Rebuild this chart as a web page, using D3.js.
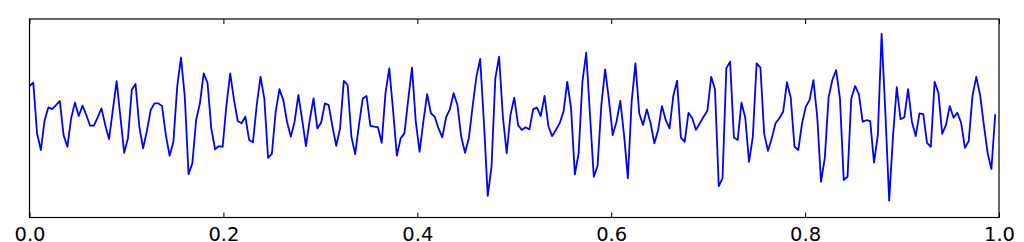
<!DOCTYPE html>
<html>
<head>
<meta charset="utf-8">
<script src="https://cdn.jsdelivr.net/npm/d3@7"></script>
<style>
  html, body { margin: 0; padding: 0; background: #fff; }
  svg { display: block; }
</style>
</head>
<body>
<div id="chart"></div>
<script>
// Signal samples (256 samples over [0, 1))
const signal = [
  1.30, 1.43, -0.61, -1.28, -0.07, 0.44, 0.37, 0.53, 0.70, -0.68,
  -1.15, 0.00, 0.63, 0.09, 0.51, 0.13, -0.30, -0.30, 0.04, 0.40,
  -0.27, -0.84, 0.33, 1.50, 0.06, -1.39, -0.81, 1.14, 1.38, -0.34,
  -1.21, -0.51, 0.33, 0.60, 0.60, 0.49, -0.68, -1.51, -0.95, 1.27,
  2.44, 0.87, -2.25, -1.82, -0.07, 0.60, 1.81, 1.43, -0.41, -1.25,
  -1.12, -1.15, 0.53, 1.81, 0.74, -0.11, -0.20, 0.06, -0.88, -0.97,
  0.53, 1.67, 0.80, -1.60, -1.44, 0.26, 1.17, 0.74, -0.14, -0.74,
  -0.14, 0.94, -0.07, -1.12, -0.07, 0.80, -0.41, -0.18, 0.60, 0.53,
  -0.34, -1.11, -0.41, 1.51, 1.34, -0.74, -1.45, -0.27, 0.80, 0.90,
  -0.31, -0.34, -0.36, -0.99, 1.01, 2.01, 0.33, -1.51, -0.81, -0.61,
  0.74, 2.04, -0.14, -1.35, -0.14, 0.97, 0.20, 0.06, -0.41, -0.77,
  0.04, 0.36, 1.01, 0.53, -0.74, -1.39, -0.81, 0.47, 1.67, 2.39,
  -0.20, -3.13, -1.95, 1.61, 2.48, 0.06, -1.41, 0.13, 0.83, -0.27,
  -0.47, -0.36, -0.45, 0.37, 0.43, 0.09, 0.90, -0.31, -0.72, -0.47,
  -0.20, 0.26, 1.47, 0.40, -2.26, -1.41, 1.47, 2.64, 0.14, -2.36,
  -1.92, 0.53, 1.97, 0.74, -0.68, -0.14, 0.70, -0.68, -2.42, 0.67,
  2.21, 0.20, -0.27, 0.36, -0.20, -1.01, -0.47, 0.49, -0.07, -0.41,
  0.90, 1.51, -0.78, -0.95, 0.22, 0.00, -0.47, -0.20, 0.06, 0.30,
  1.67, 1.17, -2.73, -2.42, 2.01, 2.28, -0.78, -0.88, 0.63, 0.02,
  -1.76, -0.74, 2.21, 2.04, -0.63, -1.31, -0.81, -0.20, 0.00, 0.26,
  1.45, 0.84, -1.15, -1.28, -0.20, 0.47, 0.74, 1.54, 0.06, -2.56,
  -1.61, 0.84, 1.54, 1.94, 0.80, -2.49, -2.36, 0.80, 1.30, 0.97,
  -0.14, -0.08, -0.12, -1.79, -0.68, 3.40, 0.20, -3.32, -0.74, 1.25,
  -0.04, 0.04, 1.17, -0.14, -0.72, 0.20, 0.17, -0.99, -1.15, 1.47,
  1.03, -0.63, -0.27, 0.49, 0.02, 0.22, -0.18, -1.19, -0.92, 0.90,
  1.67, 0.94, -0.27, -1.41, -2.05, 0.16
];
// sample times t = i / 256
const sampleCount = signal.length;
const times = d3.range(sampleCount).map((i) => i / sampleCount);

const xTicks = [0, 0.2, 0.4, 0.6, 0.8, 1.0];
const xTickLabels = ['0.0', '0.2', '0.4', '0.6', '0.8', '1.0'];
const yRange = [-4, 4];

const fontSize = 19.5;
const fontFamily = 'DejaVu Sans';

const margin = { top: 19, right: 25, bottom: 24.5, left: 29.5 };
const totalWidth = 1024;
const totalHeight = 242;
const width = 969.5;
const height = totalHeight - margin.top - margin.bottom;

const svg = d3.select('#chart')
  .append('svg')
  .attr('width', totalWidth)
  .attr('height', totalHeight);

const g = svg.append('g')
  .attr('transform', 'translate(' + margin.left + ',' + margin.top + ')');

const x = d3.scaleLinear().domain([0, 1]).range([0, width]);
const y = d3.scaleLinear().domain(yRange).range([height, 0]);

// The signal line
const line = d3.line()
  .x((d, i) => x(times[i]))
  .y((d) => y(d));

g.append('path')
  .datum(signal)
  .attr('fill', 'none')
  .attr('stroke', '#0000ff')
  .attr('stroke-width', 1.8)
  .attr('stroke-linejoin', 'round')
  .attr('d', line);

// Bottom axis, ticks pointing inward
const bottomAxis = g.append('g')
  .attr('transform', 'translate(0,' + height + ')')
  .call(d3.axisBottom(x)
    .tickValues(xTicks)
    .tickFormat((d, i) => xTickLabels[i])
    .tickSizeInner(-5)
    .tickSizeOuter(0)
    .tickPadding(9.2));
bottomAxis.select('.domain').remove();
bottomAxis.selectAll('line').attr('stroke', '#000');
bottomAxis.selectAll('text')
  .attr('fill', '#000')
  .style('font-size', fontSize + 'px')
  .style('font-family', fontFamily);

// Top axis, ticks only
const topAxis = g.append('g')
  .call(d3.axisTop(x)
    .tickValues(xTicks)
    .tickFormat('')
    .tickSizeInner(-5)
    .tickSizeOuter(0));
topAxis.select('.domain').remove();
topAxis.selectAll('line').attr('stroke', '#000');

// Frame
g.append('rect')
  .attr('x', 0)
  .attr('y', 0)
  .attr('width', width)
  .attr('height', height)
  .attr('fill', 'none')
  .attr('stroke', '#000')
  .attr('stroke-width', 1.2);
</script>
</body>
</html>
